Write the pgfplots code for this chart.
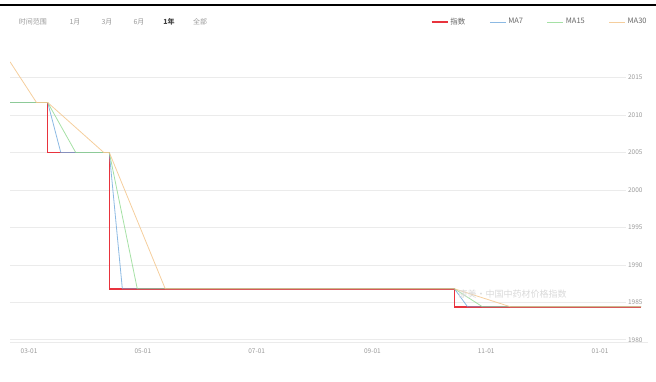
\documentclass[border=0pt]{standalone}
\usepackage{pgfplots}
\pgfplotsset{compat=1.18}
\usepackage{fontspec}
\setmainfont{Noto Sans CJK SC}
\definecolor{cred}{HTML}{E8333D}
\definecolor{cblue}{HTML}{6FA8DC}
\definecolor{cgreen}{HTML}{8FD98F}
\definecolor{cyel}{HTML}{F3C68C}
\definecolor{tgray}{HTML}{999999}
\begin{document}
\begin{tikzpicture}[x=1pt,y=1pt]
\path[use as bounding box] (0,0) rectangle (656,381);
\draw[black,line width=2.5pt] (0,376) -- (656,376);
% toolbar
\begin{scope}[every node/.style={font=\fontsize{7}{8}\selectfont,text=tgray}]
\node at (33,359) {时间范围};
\node at (75,359) {1月};
\node at (107,359) {3月};
\node at (139,359) {6月};
\node[text=black!75] at (169,359) {\bfseries 1年};
\node at (200,359) {全部};
\end{scope}
\begin{axis}[
  at={(10pt,39pt)}, anchor=south west,
  scale only axis, width=638pt, height=287pt,
  xmin=-10.2, xmax=331.7, ymin=1979.7, ymax=2018,
  axis line style={draw=none},
  major tick length=0pt,
  xtick={0,61,122,184,245,306},
  xticklabels={03-01,05-01,07-01,09-01,11-01,01-01},
  ytick={1980,1985,...,2015},
  yticklabel pos=right,
  yticklabel style={anchor=east,xshift=-2pt,font=\fontsize{6.5}{7}\selectfont,text=tgray},
  xticklabel style={font=\fontsize{6.5}{7}\selectfont,text=tgray,yshift=-3pt},
  /pgf/number format/assume math mode=true,
  y tick label style={/pgf/number format/1000 sep={}},
  legend style={draw=none,fill=none,at={(1.006,1.115)},anchor=east,
    font=\fontsize{7.5}{8}\selectfont,text=black!60,
    /tikz/every even column/.append style={column sep=22pt}},
  legend columns=4,
  legend image code/.code={\draw[#1] (0pt,0pt) -- (16pt,0pt);},
  clip=true,
]
\pgfplotsinvokeforeach{1980,1985,...,2015}{
  \draw[black!8,line width=0.6pt] (axis cs:-10.2,#1) -- (axis cs:320,#1);
}
\draw[black!8,line width=0.6pt] (axis cs:-10.2,1979.7) -- (axis cs:331.7,1979.7);
\addplot[cred,line width=1.5pt] coordinates {
(-10.2,2011.66) (10,2011.66) (10,2005) (43,2005) (43,1986.8) (228,1986.8) (228,1984.4) (328,1984.4)};
\addlegendentry{指数}
\addplot[cblue,line width=0.8pt,opacity=0.8] coordinates {
(-10.2,2011.66) (10,2011.66) (17,2005) (43,2005) (50,1986.8) (228,1986.8) (235,1984.4) (328,1984.4)};
\addlegendentry{MA7}
\addplot[cgreen,line width=0.8pt,opacity=0.8] coordinates {
(-10.2,2011.66) (10,2011.66) (25,2005) (43,2005) (58,1986.8) (228,1986.8) (243,1984.4) (328,1984.4)};
\addlegendentry{MA15}
\addplot[cyel,line width=0.8pt,opacity=0.85] coordinates {
(-10.2,2017.1) (4,2011.66) (10,2011.66) (40,2005) (43,2005) (73,1986.8) (228,1986.8) (258,1984.4) (328,1984.4)};
\addlegendentry{MA30}
\end{axis}
% watermark
\node[text=black!15,font=\fontsize{9}{10}\selectfont,anchor=west] at (455,87) {康美·中国中药材价格指数};
\end{tikzpicture}
\end{document}
